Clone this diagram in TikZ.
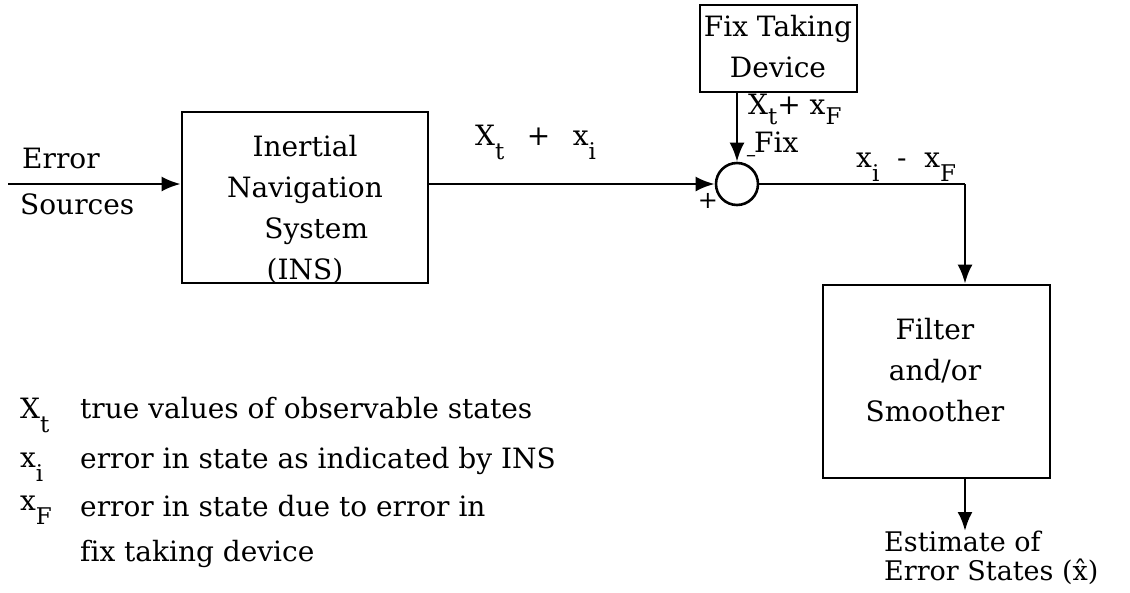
\documentclass[tikz,border=0pt]{standalone}
\usepackage{fontspec}
\setmainfont{DejaVu Serif}[Ligatures=NoCommon]
\usetikzlibrary{arrows.meta}
\newcommand\lsub[2][0.5em]{\raisebox{-#1}{\fontsize{23}{23}\selectfont #2}}
\tikzset{
  blk/.style={draw, line width=2.6pt, inner sep=0pt},
  lbl/.style={font=\fontsize{28}{41}\selectfont, inner sep=0pt},
  conn/.style={line width=2.8pt, -{Latex[length=19pt,width=15pt]}},
  wire/.style={line width=2.8pt}
}
\begin{document}
\begin{tikzpicture}[x=1pt,y=-1pt]
\useasboundingbox (0,0) rectangle (1130,592);
% blocks
\node[blk, minimum width=246pt, minimum height=171pt] (ins) at (305,197.5) {};
\node[lbl, align=center] (inst) at (305,210) {Inertial\\Navigation\\\hspace*{0.8em}System\\(INS)};
\node[blk, minimum width=157pt, minimum height=87pt] (fix) at (778.5,48.5) {};
\node[lbl, align=center] (fixt) at (778,47) {Fix Taking\\Device};
\node[blk, minimum width=227pt, minimum height=193pt] (filter) at (936.5,381.5) {};
\node[lbl, align=center] (filtt) at (935,370) {Filter\\and/or\\Smoother};
\node[draw, circle, line width=2.6pt, minimum size=42pt, inner sep=0pt] (sum) at (737,184) {};
% helper coordinates
\coordinate (in) at (8,184);
\coordinate (corner) at (965,184);
% labels
\node[lbl, anchor=base west] (err) at (22,168) {Error};
\node[lbl, anchor=base west] (src) at (20,214) {Sources};
\node[lbl, anchor=base west] (l1) at (475,145) {X\lsub{t}\ \ \,+\ \ \,x\lsub{i}};
\node[lbl, anchor=base west] (l2) at (748,114) {X\lsub[0.38em]{t}+ x\lsub[0.38em]{F}};
\node[lbl, anchor=base west] (l3) at (754,152) {Fix};
\node[lbl, text height=3pt, text depth=0pt] (minus) at (751,160) {\fontsize{20}{20}\selectfont --};
\node[lbl] (plus) at (708,201) {\fontsize{24}{24}\selectfont +};
\node[lbl, anchor=base west] (l4) at (856,167) {x\lsub{i}\ \ -\ \ x\lsub{F}};
\node[lbl, align=left, anchor=north west, font=\fontsize{27}{29}\selectfont] (est) at (884,531) {Estimate of\\Error States (\^{x})};
% legend
\node[lbl, anchor=base west] (s1) at (20,418) {X\lsub{t}};
\node[lbl, anchor=base west] (d1) at (80,418) {true values of observable states};
\node[lbl, anchor=base west] (s2) at (20,467) {x\lsub{i}};
\node[lbl, anchor=base west] (d2) at (80,468) {error in state as indicated by INS};
\node[lbl, anchor=base west] (s3) at (20,510) {x\lsub{F}};
\node[lbl, anchor=base west] (d3) at (80,516) {error in state due to error in};
\node[lbl, anchor=base west] (d4) at (80,561) {fix taking device};
% connectors
\draw[conn] (in) -- (in -| ins.west);
\draw[conn] (ins.east |- sum) -- (sum.west);
\draw[conn] (fix.south -| sum) -- (sum.north);
\draw[wire] (sum.east) -- (corner);
\draw[conn] (corner) -- (filter.north -| corner);
\draw[conn] (filter.south -| corner) -- (est.north -| corner);
\end{tikzpicture}
\end{document}
